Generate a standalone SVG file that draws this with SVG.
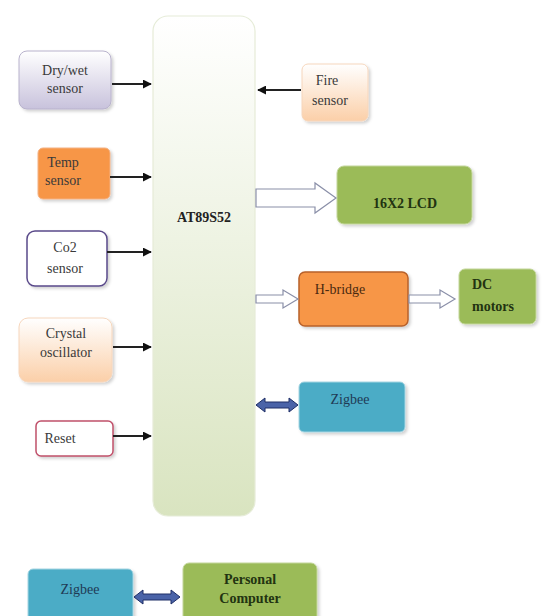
<svg xmlns="http://www.w3.org/2000/svg" width="545" height="616" viewBox="0 0 545 616">
<style>
text{font-family:"Liberation Serif","Times New Roman",serif;font-size:14px;fill:#3a3a3a;text-anchor:middle}
.b{font-weight:bold;fill:#223311}
.wire{stroke:#222;stroke-width:2;fill:none}
.hollow{fill:#fff;stroke:#8a8fa8;stroke-width:1.2}
.dbl{fill:#4a63a8;stroke:#1f2f66;stroke-width:1}
</style>
<defs>
<linearGradient id="gMain" x1="0" y1="0" x2="0" y2="1"><stop offset="0" stop-color="#ffffff"/><stop offset="1" stop-color="#d9e4c0"/></linearGradient>
<linearGradient id="gLav" x1="0" y1="0" x2="0" y2="1"><stop offset="0" stop-color="#ffffff"/><stop offset="1" stop-color="#c8c2dc"/></linearGradient>
<linearGradient id="gPeach" x1="0" y1="0" x2="0" y2="1"><stop offset="0" stop-color="#ffffff"/><stop offset="1" stop-color="#fbcfa8"/></linearGradient>
<marker id="ah" viewBox="0 0 10 10" refX="9" refY="5" markerWidth="4.5" markerHeight="4.5" orient="auto"><path d="M0,0 L10,5 L0,10 z" fill="#111"/></marker>
<filter id="sh" x="-10%" y="-10%" width="130%" height="130%"><feDropShadow dx="2" dy="2" stdDeviation="1.5" flood-color="#000" flood-opacity="0.18"/></filter>
</defs>
<rect width="545" height="616" fill="#ffffff"/>

<g id="main">
<rect x="153" y="16" width="102" height="500" rx="15" fill="url(#gMain)" stroke="#e6ecd8" stroke-width="1.2"/>
<text x="204" y="222" class="b" style="fill:#222">AT89S52</text>
</g>

<g id="drywet">
<rect x="19" y="51" width="92" height="58" rx="8" fill="url(#gLav)" stroke="#b8b2cc" filter="url(#sh)"/>
<text x="65" y="75">Dry/wet</text><text x="65" y="93">sensor</text>
</g>
<g id="temp">
<rect x="38" y="148" width="72" height="51" rx="5" fill="#f79646" stroke="#f4b183" filter="url(#sh)"/>
<text x="63" y="167">Temp</text><text x="63" y="185">sensor</text>
</g>
<g id="co2">
<rect x="27" y="231" width="80" height="55" rx="8" fill="#ffffff" stroke="#5a4a8a" stroke-width="1.5" filter="url(#sh)"/>
<text x="65" y="252">Co2</text><text x="65" y="273">sensor</text>
</g>
<g id="crystal">
<rect x="19" y="318" width="93" height="64" rx="9" fill="url(#gPeach)" stroke="#f6d6bc" filter="url(#sh)"/>
<text x="66" y="338">Crystal</text><text x="66" y="357">oscillator</text>
</g>
<g id="reset">
<rect x="36" y="421" width="77" height="35" rx="5" fill="#ffffff" stroke="#c0506a" stroke-width="1.5" filter="url(#sh)"/>
<text x="60" y="443">Reset</text>
</g>
<g id="fire">
<rect x="302" y="64" width="66" height="57" rx="6" fill="url(#gPeach)" stroke="#f6d6bc" filter="url(#sh)"/>
<text x="327" y="85">Fire</text><text x="330" y="105">sensor</text>
</g>
<g id="lcd">
<rect x="337" y="166" width="135" height="58" rx="7" fill="#9bbb59" stroke="#c3d69b" filter="url(#sh)"/>
<text x="405" y="208" class="b">16X2 LCD</text>
</g>
<g id="hbridge">
<rect x="299" y="272" width="109" height="54" rx="6" fill="#f79646" stroke="#b8612a" stroke-width="1.5" filter="url(#sh)"/>
<text x="340" y="294" style="fill:#4a2a10">H-bridge</text>
</g>
<g id="dcmotors">
<rect x="459" y="269" width="77" height="55" rx="6" fill="#9bbb59" stroke="#c3d69b" filter="url(#sh)"/>
<text x="472" y="289" class="b" style="text-anchor:start">DC</text>
<text x="472" y="311" class="b" style="text-anchor:start">motors</text>
</g>
<g id="zigbee1">
<rect x="299" y="382" width="106" height="50" rx="5" fill="#4bacc6" stroke="#a5d5e2" filter="url(#sh)"/>
<text x="350" y="404" style="fill:#1f3a55">Zigbee</text>
</g>
<g id="zigbee2">
<rect x="28" y="569" width="105" height="52" rx="5" fill="#4bacc6" stroke="#a5d5e2" filter="url(#sh)"/>
<text x="80" y="594" style="fill:#1f3a55">Zigbee</text>
</g>
<g id="pc">
<rect x="183" y="563" width="134" height="60" rx="6" fill="#9bbb59" stroke="#c3d69b" filter="url(#sh)"/>
<text x="250" y="584" class="b">Personal</text><text x="250" y="603" class="b">Computer</text>
</g>

<g id="connectors">
<line class="wire" x1="112" y1="84" x2="151" y2="84" marker-end="url(#ah)"/>
<line class="wire" x1="110" y1="177" x2="151" y2="177" marker-end="url(#ah)"/>
<line class="wire" x1="107" y1="252" x2="151" y2="252" marker-end="url(#ah)"/>
<line class="wire" x1="113" y1="347" x2="151" y2="347" marker-end="url(#ah)"/>
<line class="wire" x1="113" y1="436" x2="151" y2="436" marker-end="url(#ah)"/>
<line class="wire" x1="301" y1="90" x2="258" y2="90" marker-end="url(#ah)"/>
<path class="hollow" d="M256,189 L315,189 L315,183 L336,198 L315,213 L315,207 L256,207 Z"/>
<path class="hollow" d="M256,295 L283,295 L283,290 L298,299 L283,308 L283,303 L256,303 Z"/>
<path class="hollow" d="M409,295 L440,295 L440,290 L455,299 L440,308 L440,303 L409,303 Z"/>
<path class="dbl" d="M256,405 L265,398 L265,402 L289,402 L289,398 L298,405 L289,412 L289,408 L265,408 L265,412 Z"/>
<path class="dbl" d="M134,597 L143,590 L143,594 L171,594 L171,590 L180,597 L171,604 L171,600 L143,600 L143,604 Z"/>
</g>
</svg>
